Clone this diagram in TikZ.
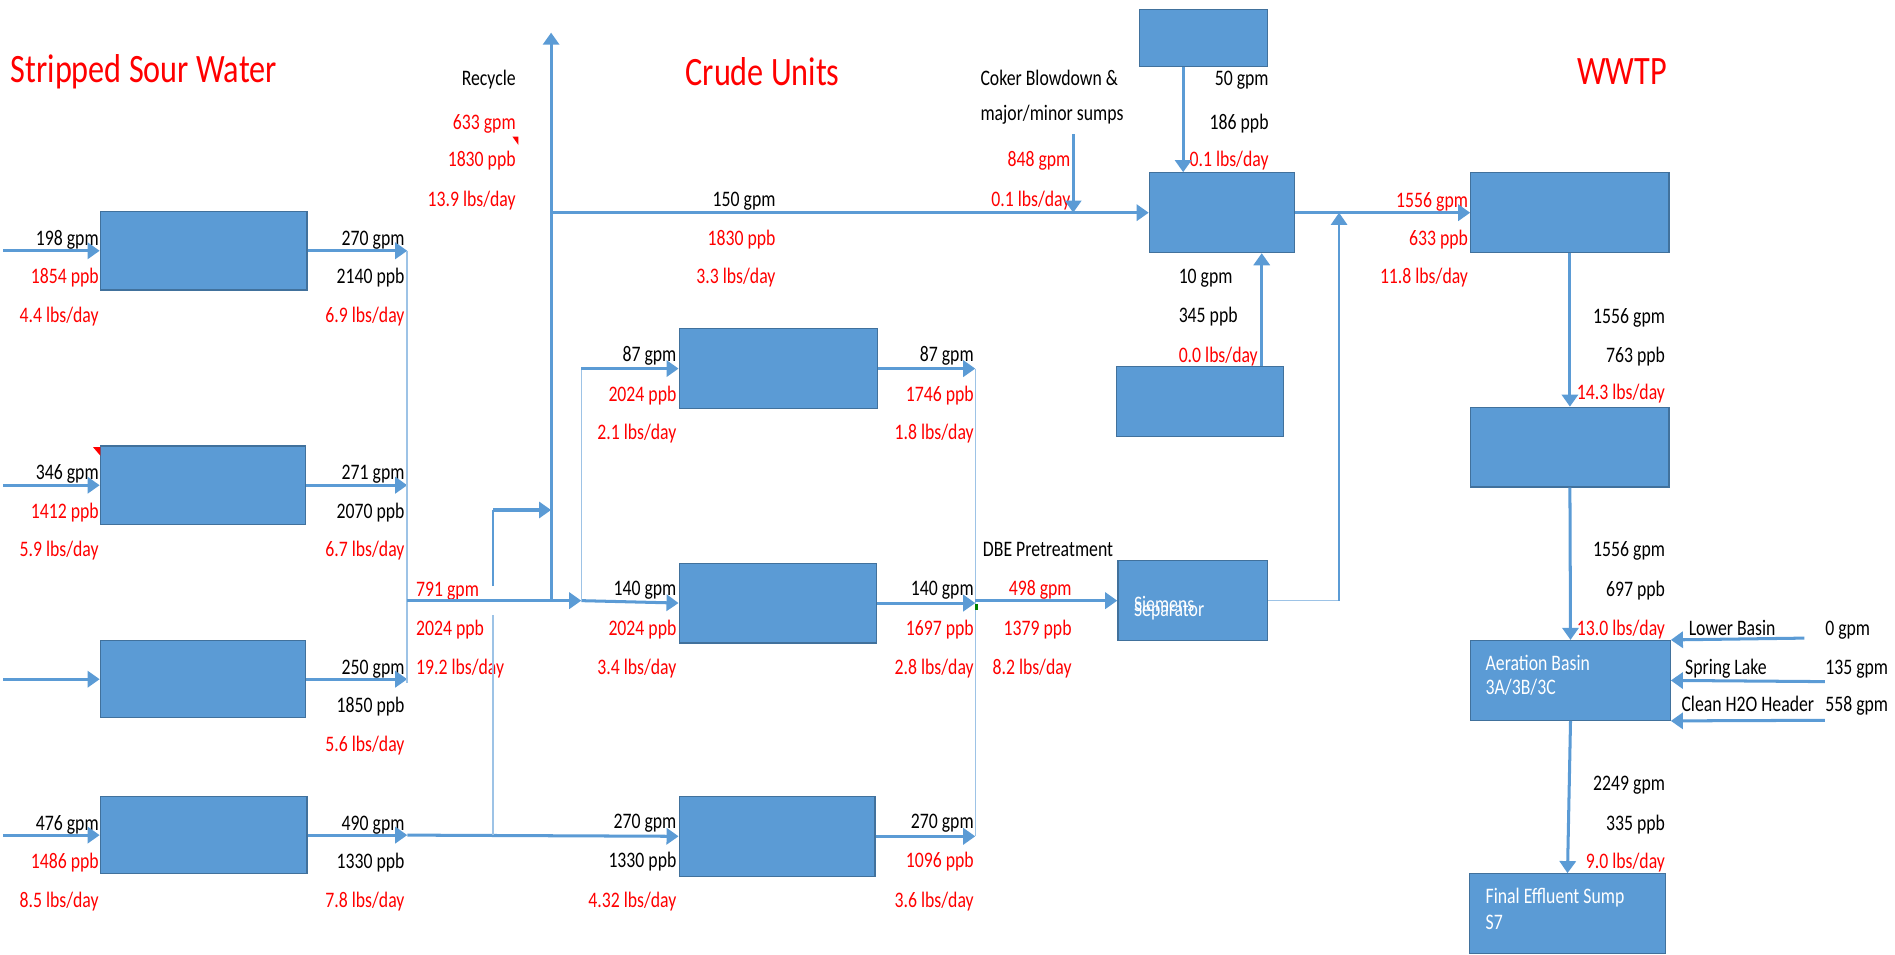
\documentclass[tikz,border=0pt]{standalone}
\usepackage{fontspec}
\setmainfont{Carlito}[FakeStretch=0.8]
\usetikzlibrary{arrows.meta}
\usetikzlibrary{calc,fit}
\definecolor{unitblue}{HTML}{5B9BD5}
\definecolor{unitedge}{HTML}{41719C}
\definecolor{pipeblue}{HTML}{5B9BD5}
\definecolor{tapblue}{HTML}{9DC3E6}

\begin{document}
\begin{tikzpicture}[x=0.6pt, y=-0.6pt, font=\fontsize{11}{12}\selectfont,
    unit/.style={draw=unitedge, fill=unitblue, line width=0.6pt, inner sep=0pt},
    pipe/.style={draw=pipeblue, line width=1.5pt, -{Triangle[length=6pt,width=8pt]}},
    tap/.style={draw=tapblue, line width=0.8pt},
    lbl/.style={inner sep=0pt, text height=8pt, text depth=1pt},
    head/.style={text=red, inner sep=0pt, font=\fontsize{20}{24}\selectfont}]

    \useasboundingbox (0,0) rectangle (1568,790);

    \node[head] (t_ssw) at (119,59) {Stripped Sour Water};
    \node[head] (t_cru) at (631,59) {Crude Units};
    \node[head] (t_wwtp) at (1342,59) {WWTP};

    \foreach \nm/\ax/\ay/\bx/\by in {s_1/83/175/254/240, s_2/83/369/253/434, s_3/83/530/253/594, s_4/83/659/254/723,
        c_1/562/272/726/338, c_2/562/466/725/532, c_3/562/659/724/725,
        tk/943/8/1049/55, mix/951/143/1071/209, low/924/303/1062/361, sep/925/464/1049/530,
        w_1/1217/143/1381/209, w_2/1217/337/1381/403, ab/1217/530/1382/596, fes/1216/723/1378/789} {
        \node[unit, fit={(\ax,\ay) (\bx,\by)}] (\nm) {};
    }

    % numbers right of their pipe ends
    \foreach \nm/\xx/\yy/\cl/\tx in {
        si_1a/82/197/black/198 gpm, si_1b/82/229/red/1854 ppb, si_1c/82/261/red/{4.4 lbs/day},
        si_2a/82/391/black/346 gpm, si_2b/82/423/red/1412 ppb, si_2c/82/455/red/{5.9 lbs/day},
        si_4a/82/681/black/476 gpm, si_4b/82/713/red/1486 ppb, si_4c/82/745/red/{8.5 lbs/day},
        so_1a/335/197/black/270 gpm, so_1b/335/229/black/2140 ppb, so_1c/335/261/red/{6.9 lbs/day},
        so_2a/335/391/black/271 gpm, so_2b/335/423/black/2070 ppb, so_2c/335/455/red/{6.7 lbs/day},
        so_3a/335/552/black/250 gpm, so_3b/335/584/black/1850 ppb, so_3c/335/616/red/{5.6 lbs/day},
        so_4a/335/681/black/490 gpm, so_4b/335/713/black/1330 ppb, so_4c/335/745/red/{7.8 lbs/day},
        rc_a/427/65/black/Recycle, rc_b/427/101/red/633 gpm, rc_c/427/132/red/1830 ppb, rc_d/427/165/red/{13.9 lbs/day},
        hd_a/642/165/black/150 gpm, hd_b/642/197/red/1830 ppb, hd_c/642/229/red/{3.3 lbs/day},
        ci_1a/560/293/black/87 gpm, ci_1b/560/326/red/2024 ppb, ci_1c/560/358/red/{2.1 lbs/day},
        ci_2a/560/487/black/140 gpm, ci_2b/560/520/red/2024 ppb, ci_2c/560/552/red/{3.4 lbs/day},
        ci_3a/560/680/black/270 gpm, ci_3b/560/712/black/1330 ppb, ci_3c/560/745/red/{4.32 lbs/day},
        co_1a/806/293/black/87 gpm, co_1b/806/326/red/1746 ppb, co_1c/806/358/red/{1.8 lbs/day},
        co_2a/806/487/black/140 gpm, co_2b/806/520/red/1697 ppb, co_2c/806/552/red/{2.8 lbs/day},
        co_3a/806/680/black/270 gpm, co_3b/806/712/red/1096 ppb, co_3c/806/745/red/{3.6 lbs/day},
        db_a/887/487/red/498 gpm, db_b/887/520/red/1379 ppb, db_c/887/552/red/{8.2 lbs/day},
        ck_a/886/132/red/848 gpm, ck_b/886/165/red/{0.1 lbs/day},
        tk_a/1050/65/black/50 gpm, tk_b/1050/101/black/186 ppb, tk_c/1050/132/red/{0.1 lbs/day},
        mx_a/1215/166/red/1556 gpm, mx_b/1215/197/red/633 ppb, mx_c/1215/229/red/{11.8 lbs/day},
        w1_a/1378/262/black/1556 gpm, w1_b/1378/294/black/763 ppb, w1_c/1378/325/red/{14.3 lbs/day},
        w2_a/1378/455/black/1556 gpm, w2_b/1378/488/black/697 ppb, w2_c/1378/520/red/{13.0 lbs/day},
        ab_a/1378/648/black/2249 gpm, ab_b/1378/681/black/335 ppb, ab_c/1378/713/red/{9.0 lbs/day}} {
        \node[lbl, anchor=east, text=\cl] (\nm) at (\xx,\yy) {\tx};
    }

    \foreach \nm/\xx/\yy/\cl/\tx in {
        mo_a/344/488/red/791 gpm, mo_b/344/520/red/2024 ppb, mo_c/344/552/red/{19.2 lbs/day},
        ck_t1/811/65/black/Coker Blowdown \&, ck_t2/811/94/black/{major/minor sumps},
        db_t/813/455/black/DBE Pretreatment,
        lw_a/975/229/black/10 gpm, lw_b/975/261/black/345 ppb, lw_c/975/294/red/{0.0 lbs/day},
        fd_1/1397/520/black/Lower Basin, fd_2/1394/552/black/Spring Lake, fd_3/1391/583/black/Clean H2O Header,
        fq_1/1510/520/black/0 gpm, fq_2/1510/552/black/135 gpm, fq_3/1510/583/black/558 gpm,
        sep_t1/938/500/white/Siemens, sep_t2/938/504/white/Separator,
        ab_t1/1229/549/white/Aeration Basin, ab_t2/1229/569/white/{3A/3B/3C},
        fes_t1/1229/742/white/Final Effluent Sump, fes_t2/1229/763/white/S7} {
        \node[lbl, anchor=west, text=\cl] (\nm) at (\xx,\yy) {\tx};
    }

    \foreach \i in {1,...,4} {
        \coordinate (in_\i) at ($(s_\i.west)+(-80,0)$);
        \draw[pipe] (in_\i) -- (s_\i.west);
    }
    \coordinate (col_a) at (337,0);
    \foreach \i in {1,2,3} {
        \draw[pipe] (s_\i.east) -- (s_\i.east -| col_a);
    }
    \draw[tap] (s_1.east -| col_a) -- ([yshift=-2pt]s_3.east -| col_a);
    \draw[pipe] (s_4.east) -- (s_4.east -| col_a);
    \draw[pipe] (s_4.east -| col_a) -- (c_3.west);

    \coordinate (mx) at (337,497);
    \coordinate (br) at (481,497);
    \draw[pipe] (mx) -- (br);
    \draw[pipe] (br) -- (c_2.west);
    \draw[tap] (br) -- (br |- c_1.west);
    \draw[pipe] (br |- c_1.west) -- (c_1.west);

    \coordinate (rc_lo) at (456,497);
    \coordinate (rc_hi) at (456,27);
    \draw[pipe] (rc_lo) -- (rc_hi);
    \draw[pipe] (rc_lo |- mix.west) -- (mix.west);

    \coordinate (sp_hi) at (408,422);
    \coordinate (sp_lo) at (408,485);
    \coordinate (sp_b) at (408,509);
    \draw[draw=pipeblue, line width=0.8pt] (sp_lo) -- (sp_hi);
    \draw[pipe] (sp_hi) -- (sp_hi -| rc_lo);
    \draw[tap] (sp_b) -- (sp_b |- s_4.east);

    \coordinate (col_b) at (807,0);
    \foreach \i in {1,2,3} {
        \draw[pipe] (c_\i.east) -- (c_\i.east -| col_b);
    }
    \draw[tap] (c_1.east -| col_b) -- (c_3.east -| col_b);
    \draw[pipe] (sep.west -| col_b) -- (sep.west);

    \coordinate (ck_s) at (888,111);
    \draw[pipe] (ck_s) -- (ck_s |- mix.west);
    \coordinate (tk_x) at (979,0);
    \draw[pipe] (tk.south -| tk_x) -- (mix.north -| tk_x);
    \coordinate (lw_x) at (1044,0);
    \draw[pipe] (low.north -| lw_x) -- (mix.south -| lw_x);
    \draw[pipe] (mix.east) -- (w_1.west);

    \coordinate (rt) at (1108,497);
    \draw[tap] (sep.east) -- (rt);
    \draw[pipe, line width=1.1pt] (rt) -- (rt |- mix.east);

    \draw[pipe] (w_1.south) -- (w_2.north);
    \draw[pipe] (w_2.south) -- (ab.north);
    \draw[pipe] (ab.south) -- (fes.north);

    \coordinate (fd_s1) at (1493,528);
    \coordinate (fd_s2) at (1510,564);
    \coordinate (fd_s3) at (1510,596);
    \draw[pipe] (fd_s1) -- (ab.north east);
    \draw[pipe] (fd_s2) -- (ab.east);
    \draw[pipe] (fd_s3) -- (ab.south east);

    \fill[red] (424,113) -- (429,113) -- (429,120) -- cycle;
    \fill[red] (77,370) -- (83,370) -- (83,377) -- cycle;
    \fill[green!50!black] (807,500) rectangle (809,505);
\end{tikzpicture}
\end{document}
